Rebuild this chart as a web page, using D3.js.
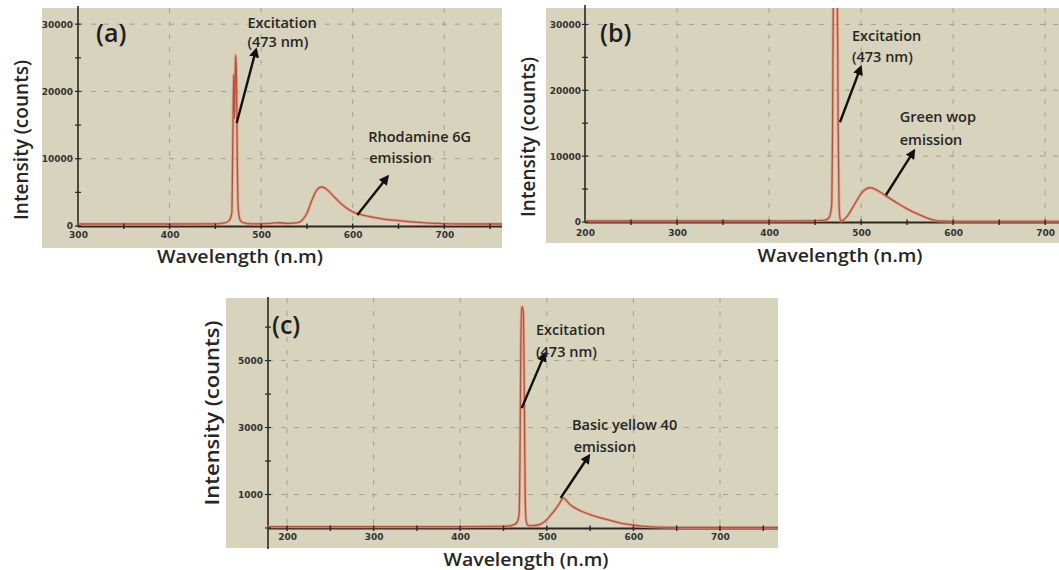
<!DOCTYPE html>
<html><head><meta charset="utf-8">
<script src="https://cdn.jsdelivr.net/npm/d3@7"></script>
<style>
html,body{margin:0;padding:0;background:#fff;}
svg{display:block;}
</style></head><body>
<svg id="chart" width="1059" height="570"></svg>
<script>
// ---------- Panel (a) : Rhodamine 6G ----------
const aWavelength = [300,350,400,450,460,465,468,469,470,471,472,473,474,475,477,480,490,500,510,515,520,525,530,540,545,550,555,560,566,570,575,580,590,600,610,620,635,650,665,680,700,720,763];
const aIntensity  = [300,300,300,320,450,800,2000,12000,22500,16000,25400,23000,9000,2500,900,500,320,320,380,450,480,420,380,500,900,1900,3700,5200,5800,5600,5000,4300,3000,2100,1650,1350,1000,800,600,450,350,300,300];
const aXTicks = [300,400,500,600,700];
const aXMinor = [350,450,550,650,750];
const aYTicks = [0,10000,20000,30000];
const aYMinor = [5000,15000,25000];
const aNoteText   = ["Excitation","(473 nm)","Rhodamine 6G","emission"];
const aNoteWl     = [485,485,617,618];
const aNoteCounts = [29400,26600,12500,9400];
const aArrowFrom  = [[473.3,15300],[605,1640]];
const aArrowTo    = [[494,26000],[637,7140]];

// ---------- Panel (b) : Green wop ----------
const bWavelength = [200,300,400,450,460,465,468,469,470,472,474,475,476,477,478,480,485,490,495,500,505,510,515,520,530,540,550,560,570,575,580,585,600,715];
const bIntensity  = [150,150,150,180,250,600,2500,15000,38000,40000,38000,15000,3000,600,150,250,900,2000,3200,4300,5000,5200,5000,4600,3700,2800,2000,1300,700,450,250,150,100,100];
const bXTicks = [200,300,400,500,600,700];
const bXMinor = [250,350,450,550,650];
const bYTicks = [0,10000,20000,30000];
const bYMinor = [5000,15000,25000];
const bNoteText   = ["Excitation","(473 nm)","Green wop","emission"];
const bNoteWl     = [490,490,542,542];
const bNoteCounts = [27500,24300,15150,11650];
const bArrowFrom  = [[477,15150],[527,4100]];
const bArrowTo    = [[499,23300],[556.5,10600]];

// ---------- Panel (c) : Basic yellow 40 ----------
const cWavelength = [178,200,300,400,450,460,465,468,469,470,471,472,473,474,475,476,478,482,490,500,505,510,515,519,522,526,530,540,550,560,570,580,590,600,610,620,640,700,767];
const cIntensity  = [40,40,40,40,50,80,150,400,2000,5500,6600,6600,6400,4000,1000,250,80,70,90,250,400,560,750,900,840,720,640,500,400,320,250,180,120,90,55,35,20,15,15];
const cXTicks = [200,300,400,500,600,700];
const cXMinor = [250,350,450,550,650,750];
const cYTicks = [1000,3000,5000];
const cYMinor = [0,2000,4000,6000];
const cNoteText   = ["Excitation","(473 nm)","Basic yellow 40","emission"];
const cNoteWl     = [487.5,487.5,529,531];
const cNoteCounts = [5760,5100,2925,2270];
const cArrowFrom  = [[471,3580],[516,895]];
const cArrowTo    = [[497,5160],[547.6,2120]];

const panelLetters = ["(a)","(b)","(c)"];
const xTitle = "Wavelength (n.m)";
const yTitle = "Intensity (counts)";

// ---------- styles / layout ----------
const BG = "#d8d3bc";
const GRID = "#a6a18a";
const AXIS = "#2e2622";
const LINE = "#b6523c";
const HALO = "#e49a86";
const TXT = "#262626";
const FONT = "'Open Sans', 'Noto Sans', sans-serif";

const svg = d3.select("#chart");
const defs = svg.append("defs");
defs.append("marker").attr("id","ah")
  .attr("viewBox","0 0 10 10").attr("refX",6).attr("refY",5)
  .attr("markerWidth",4.2).attr("markerHeight",4.2)
  .attr("orient","auto").attr("markerUnits","strokeWidth")
  .append("path").attr("d","M0,0 L10,5 L0,10 z").attr("fill","#111");

function drawPanel(p, idx) {
  const g = svg.append("g");
  g.append("rect").attr("x",p.bg[0]).attr("y",p.bg[1])
    .attr("width",p.bg[2]-p.bg[0]).attr("height",p.bg[3]-p.bg[1]).attr("fill",BG);

  const x = d3.scaleLinear().domain(p.xDomain).range(p.xRange);
  const y = d3.scaleLinear().domain(p.yDomain).range(p.yRange);
  const [xl, xr] = p.xRange, [yb, yt] = p.yRange;

  // grid
  g.append("g").selectAll("line").data(p.xTicks.filter(t => x(t) > xl + 3)).join("line")
    .attr("x1", d => x(d)).attr("x2", d => x(d)).attr("y1", yt).attr("y2", yb)
    .attr("stroke", GRID).attr("stroke-width",1).attr("stroke-dasharray","5,8");
  g.append("g").selectAll("line").data(p.yTicks.filter(t => t > 0)).join("line")
    .attr("x1", xl).attr("x2", xr).attr("y1", d => y(d)).attr("y2", d => y(d))
    .attr("stroke", GRID).attr("stroke-width",1).attr("stroke-dasharray","5,8");

  // axes lines (under the trace)
  g.append("line").attr("x1", xl).attr("x2", xr).attr("y1", yb + 0.5).attr("y2", yb + 0.5)
    .attr("stroke", AXIS).attr("stroke-width", 2);
  g.append("line").attr("x1", xl).attr("x2", xl).attr("y1", p.yAxisTop).attr("y2", p.yAxisBottom)
    .attr("stroke", AXIS).attr("stroke-width", 1.6);

  // spectrum
  const clipId = "clip" + idx;
  defs.append("clipPath").attr("id", clipId).append("rect")
    .attr("x", xl).attr("y", p.bg[1]).attr("width", xr - xl).attr("height", yb - p.bg[1] + 2);
  const pts = p.wl.map((w, i) => [w, p.val[i]]);
  const lineGen = d3.line().x(d => x(d[0])).y(d => y(d[1])).curve(d3.curveMonotoneX);
  g.append("path").datum(pts).attr("clip-path", `url(#${clipId})`)
    .attr("fill","none").attr("stroke", HALO).attr("stroke-width",3).attr("stroke-opacity",0.75)
    .attr("stroke-linejoin","round").attr("d", lineGen);
  g.append("path").datum(pts).attr("clip-path", `url(#${clipId})`)
    .attr("fill","none").attr("stroke", LINE).attr("stroke-width",1.3).attr("stroke-linejoin","round")
    .attr("d", lineGen);

  // tick labels
  const xAxis = d3.axisBottom(x).tickValues(p.xTicks).tickSizeInner(0).tickSizeOuter(0).tickPadding(p.xPad).tickFormat(d3.format("d"));
  const xg = g.append("g").attr("transform", `translate(0,${yb})`).call(xAxis);
  xg.select(".domain").remove();
  xg.selectAll("text").attr("font-family","'DejaVu Sans', sans-serif").attr("font-weight","bold").attr("font-size",9).attr("fill","#333");
  const yAxis = d3.axisLeft(y).tickValues(p.yTicks).tickSizeInner(0).tickSizeOuter(0).tickPadding(p.yPad).tickFormat(d3.format("d"));
  const yg = g.append("g").attr("transform", `translate(${xl},0)`).call(yAxis);
  yg.select(".domain").remove();
  yg.selectAll("text").attr("font-family","'DejaVu Sans', sans-serif").attr("font-weight","bold").attr("font-size",9).attr("fill","#333");

  // tick marks crossing axes
  const allX = p.xTicks.concat(p.xMinor).filter(t => x(t) > xl + 3 && x(t) < xr - 2);
  g.append("g").selectAll("line").data(allX).join("line")
    .attr("x1", d => x(d)).attr("x2", d => x(d)).attr("y1", yb - 2.5).attr("y2", yb + 3)
    .attr("stroke", AXIS).attr("stroke-width", 1.4);
  const allY = p.yTicks.concat(p.yMinor);
  g.append("g").selectAll("line").data(allY).join("line")
    .attr("x1", xl - 3).attr("x2", xl + 3).attr("y1", d => y(d)).attr("y2", d => y(d))
    .attr("stroke", AXIS).attr("stroke-width", 1.2);

  // annotations
  g.append("g").selectAll("line").data(p.arrowFrom).join("line")
    .attr("x1", d => x(d[0])).attr("y1", d => y(d[1]))
    .attr("x2", (d, i) => x(p.arrowTo[i][0])).attr("y2", (d, i) => y(p.arrowTo[i][1]))
    .attr("stroke","#111").attr("stroke-width",2.4).attr("marker-end","url(#ah)");
  g.append("g").selectAll("text").data(p.noteText).join("text")
    .attr("x", (d, i) => x(p.noteWl[i])).attr("y", (d, i) => y(p.noteCounts[i]))
    .attr("font-family", FONT).attr("font-weight", 600).attr("font-size", p.noteSize)
    .attr("fill", TXT).text(d => d);

  // panel letter
  g.append("text").attr("x", p.letterPos[0]).attr("y", p.letterPos[1])
    .attr("font-family", FONT).attr("font-weight", 600).attr("font-size", 25)
    .attr("fill", "#1e1e1e").text(panelLetters[idx]);

  // titles
  g.append("text").attr("x", p.xTitlePos[0]).attr("y", p.xTitlePos[1]).attr("text-anchor","middle")
    .attr("font-family", FONT).attr("font-weight", 600).attr("font-size", p.titleSize).attr("fill", TXT)
    .attr("textLength", p.xTitleLen).attr("lengthAdjust","spacingAndGlyphs").text(xTitle);
  g.append("text").attr("transform", `translate(${p.yTitlePos[0]},${p.yTitlePos[1]}) rotate(-90)`)
    .attr("text-anchor","middle")
    .attr("font-family", FONT).attr("font-weight", 600).attr("font-size", 19).attr("fill", TXT)
    .attr("textLength", p.yTitleLen).attr("lengthAdjust","spacingAndGlyphs").text(yTitle);
}

drawPanel({
  bg:[42,8,502,248], xDomain:[300,763], xRange:[78,502], yDomain:[0,32400], yRange:[226,8],
  yAxisTop:6, yAxisBottom:227, xPad:6, yPad:5,
  wl:aWavelength, val:aIntensity, xTicks:aXTicks, xMinor:aXMinor, yTicks:aYTicks, yMinor:aYMinor,
  noteText:aNoteText, noteWl:aNoteWl, noteCounts:aNoteCounts, arrowFrom:aArrowFrom, arrowTo:aArrowTo,
  noteSize:14.5, letterPos:[96,42], xTitlePos:[240,263], xTitleLen:166, titleSize:18, yTitlePos:[28,140], yTitleLen:160
}, 0);

drawPanel({
  bg:[546,8,1059,243], xDomain:[200,715], xRange:[585,1059], yDomain:[0,32500], yRange:[222,8],
  yAxisTop:5, yAxisBottom:223, xPad:8, yPad:4,
  wl:bWavelength, val:bIntensity, xTicks:bXTicks, xMinor:bXMinor, yTicks:bYTicks, yMinor:bYMinor,
  noteText:bNoteText, noteWl:bNoteWl, noteCounts:bNoteCounts, arrowFrom:bArrowFrom, arrowTo:bArrowTo,
  noteSize:14.5, letterPos:[600,42], xTitlePos:[840,262], xTitleLen:165, titleSize:18, yTitlePos:[535,137], yTitleLen:160
}, 1);

drawPanel({
  bg:[226,298,778,548], xDomain:[178,767], xRange:[268,778], yDomain:[0,6870], yRange:[528,298],
  yAxisTop:297, yAxisBottom:549, xPad:6, yPad:5,
  wl:cWavelength, val:cIntensity, xTicks:cXTicks, xMinor:cXMinor, yTicks:cYTicks, yMinor:cYMinor,
  noteText:cNoteText, noteWl:cNoteWl, noteCounts:cNoteCounts, arrowFrom:cArrowFrom, arrowTo:cArrowTo,
  noteSize:14.5, letterPos:[272,334], xTitlePos:[526,566], xTitleLen:165, titleSize:18, yTitlePos:[219,413], yTitleLen:185
}, 2);
</script>
</body></html>
